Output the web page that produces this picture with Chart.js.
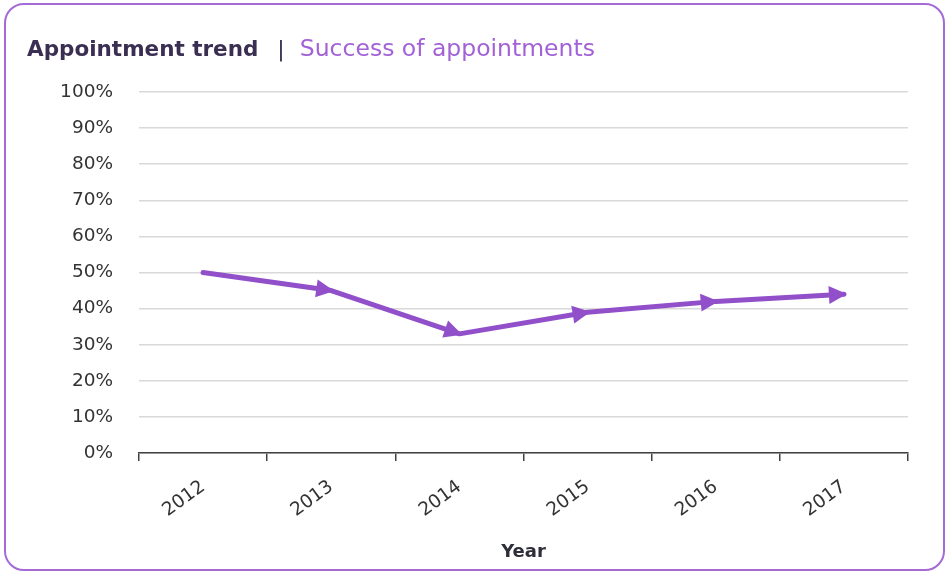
<!DOCTYPE html>
<html>
<head>
<meta charset="utf-8">
<script src="https://cdn.jsdelivr.net/npm/chart.js@4/dist/chart.umd.min.js"></script>
<style>
  body { margin: 0; background: #fff; }
  #wrap { position: relative; width: 946px; height: 573px; }
  #frame {
    position: absolute; left: 4px; top: 3px; width: 937px; height: 564px;
    border: 2px solid #a46ad6; border-radius: 20px; pointer-events: none;
  }
  #head {
    position: absolute; left: 27px; top: 33px; white-space: nowrap;
    font-family: "DejaVu Sans", sans-serif; line-height: 30px;
  }
  #head .main { font-weight: bold; font-size: 21.5px; color: #3a2f52; }
  #head .sep { font-size: 22px; color: #3a2f52; margin: 0 15px 0 19px; }
  #head .sub { font-size: 23.5px; color: #a361d6; }
  canvas { position: absolute; left: 0; top: 0; }
</style>
</head>
<body>
<div id="wrap">
  <canvas id="trend" width="946" height="573"></canvas>
  <div id="head"><span class="main">Appointment trend</span><span class="sep">|</span><span class="sub">Success of appointments</span></div>
  <div id="frame"></div>
</div>
<script>
var years = ["2012", "2013", "2014", "2015", "2016", "2017"];
var success = [50, 45, 33, 39, 42, 44];
var yTicks = [0, 10, 20, 30, 40, 50, 60, 70, 80, 90, 100];

var PURPLE = "#9150c9";
var tickFont = { family: "DejaVu Sans", size: 18.5 };

// arrowhead at every point after the first, pointing along its segment
var arrowHeads = {
  id: "arrowHeads",
  afterDatasetsDraw: function (chart) {
    var pts = chart.getDatasetMeta(0).data;
    var ctx = chart.ctx;
    ctx.save();
    ctx.fillStyle = PURPLE;
    for (var i = 1; i < pts.length; i++) {
      var a = Math.atan2(pts[i].y - pts[i - 1].y, pts[i].x - pts[i - 1].x);
      ctx.save();
      ctx.translate(pts[i].x, pts[i].y);
      ctx.rotate(a);
      ctx.beginPath();
      ctx.moveTo(3, 0);
      ctx.lineTo(-15, -9);
      ctx.lineTo(-15, 9);
      ctx.closePath();
      ctx.fill();
      ctx.restore();
    }
    ctx.restore();
  }
};

new Chart(document.getElementById("trend"), {
  type: "line",
  data: {
    labels: years,
    datasets: [{
      data: success,
      borderColor: PURPLE,
      borderWidth: 5,
      borderCapStyle: "round",
      borderJoinStyle: "round",
      pointRadius: 0,
      tension: 0
    }]
  },
  options: {
    responsive: false,
    animation: false,
    layout: { padding: { top: 92, right: 38, left: 0, bottom: 0 } },
    plugins: { legend: { display: false }, tooltip: { enabled: false } },
    scales: {
      x: {
        type: "category",
        offset: true,
        afterFit: function (s) { s.height = 120; },
        border: { color: "#404040", width: 1.5 },
        grid: { offset: true, drawOnChartArea: false, tickLength: 8, color: "#404040", lineWidth: 1.5 },
        ticks: { color: "#333", font: tickFont, minRotation: 36, maxRotation: 36, padding: 15 },
        title: {
          display: true, text: "Year", color: "#2e2e3a",
          font: { family: "DejaVu Sans", size: 18, weight: "bold" },
          padding: { top: 0, bottom: 10 }
        }
      },
      y: {
        min: 0,
        max: 100,
        afterFit: function (s) { s.width = 139; },
        afterBuildTicks: function (s) { s.ticks = yTicks.map(function (v) { return { value: v }; }); },
        border: { display: false },
        grid: { color: "#d9d9d9", lineWidth: 1.5, drawTicks: false },
        ticks: {
          color: "#333", font: tickFont, padding: 26,
          callback: function (v) { return v + "%"; }
        }
      }
    }
  },
  plugins: [arrowHeads]
});
</script>
</body>
</html>
